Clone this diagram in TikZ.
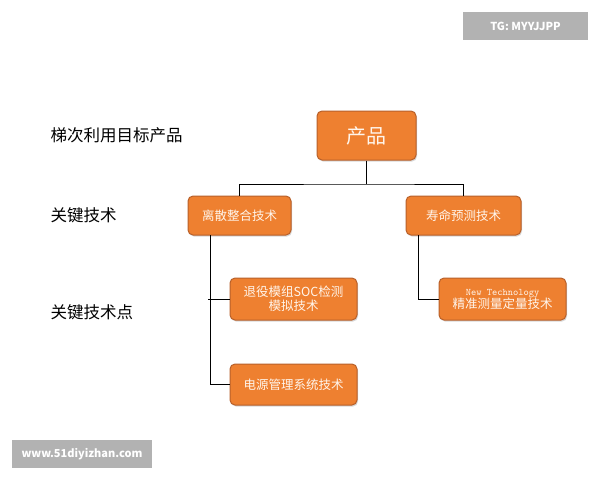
\documentclass[tikz,border=0pt]{standalone}
\usepackage{fontspec}
\setmainfont{Noto Sans CJK SC}
\usetikzlibrary{shadows}
\definecolor{org}{HTML}{EE8030}
\definecolor{orgd}{HTML}{B8602A}
\begin{document}
\begin{tikzpicture}[x=1pt,y=-1pt,
 box/.style={draw=orgd,line width=1pt,fill=org,rounded corners=5pt,text=white!92!orange,font=\fontsize{12.5}{15}\selectfont,align=center,inner sep=0pt,drop shadow={shadow xshift=1pt,shadow yshift=-1.5pt,opacity=0.3}},
 lbl/.style={anchor=west,font=\fontsize{16.5}{19}\selectfont,text=black},
 ln/.style={draw=black,line width=0.9pt},
 wm/.style={fill=gray!60,text=white,font=\fontsize{11}{13}\selectfont\bfseries,inner sep=0pt}]
\useasboundingbox (0,0) rectangle (600,480);
\fill[white] (0,0) rectangle (600,480);
\node[box,minimum width=99pt,minimum height=49pt,font=\fontsize{20}{22}\selectfont] (p) at (366.5,135.5) {产品};
\node[box,minimum width=103pt,minimum height=39pt] (a) at (239.5,215.5) {离散整合技术};
\node[box,minimum width=115pt,minimum height=39pt] (b) at (463.5,215.5) {寿命预测技术};
\node[box,minimum width=127pt,minimum height=42pt,font=\fontsize{12.5}{14}\selectfont] (c) at (293.5,299) {退役模组SOC检测\\模拟技术};
\node[box,minimum width=127pt,minimum height=42pt,font=\fontsize{12.5}{13}\selectfont] (d) at (502.5,299) {{\ttfamily\fontsize{10}{11}\selectfont New Technology}\\精准测量定量技术};
\node[box,minimum width=127pt,minimum height=41pt] (e) at (293.5,384.5) {电源管理系统技术};
\coordinate (j) at (366.5,184);
\draw[ln] (p.south) -- (j);
\draw[ln] (a.north) |- (j) -| (b.north);
\coordinate (la) at (210,235);
\draw[ln] (la) |- (e.west);
\draw[ln] (208,299) -- (c.west);
\draw[ln] (418,235) |- (d.west);
\node[lbl] (l1) at (47,135) {梯次利用目标产品};
\node[lbl] (l2) at (47,215) {关键技术};
\node[lbl] (l3) at (47,312) {关键技术点};
\node[wm,minimum width=125pt,minimum height=28pt] (w1) at (525.5,26) {TG: MYYJJPP};
\node[wm,minimum width=140pt,minimum height=28pt] (w2) at (82,454) {www.51diyizhan.com};
\end{tikzpicture}
\end{document}
